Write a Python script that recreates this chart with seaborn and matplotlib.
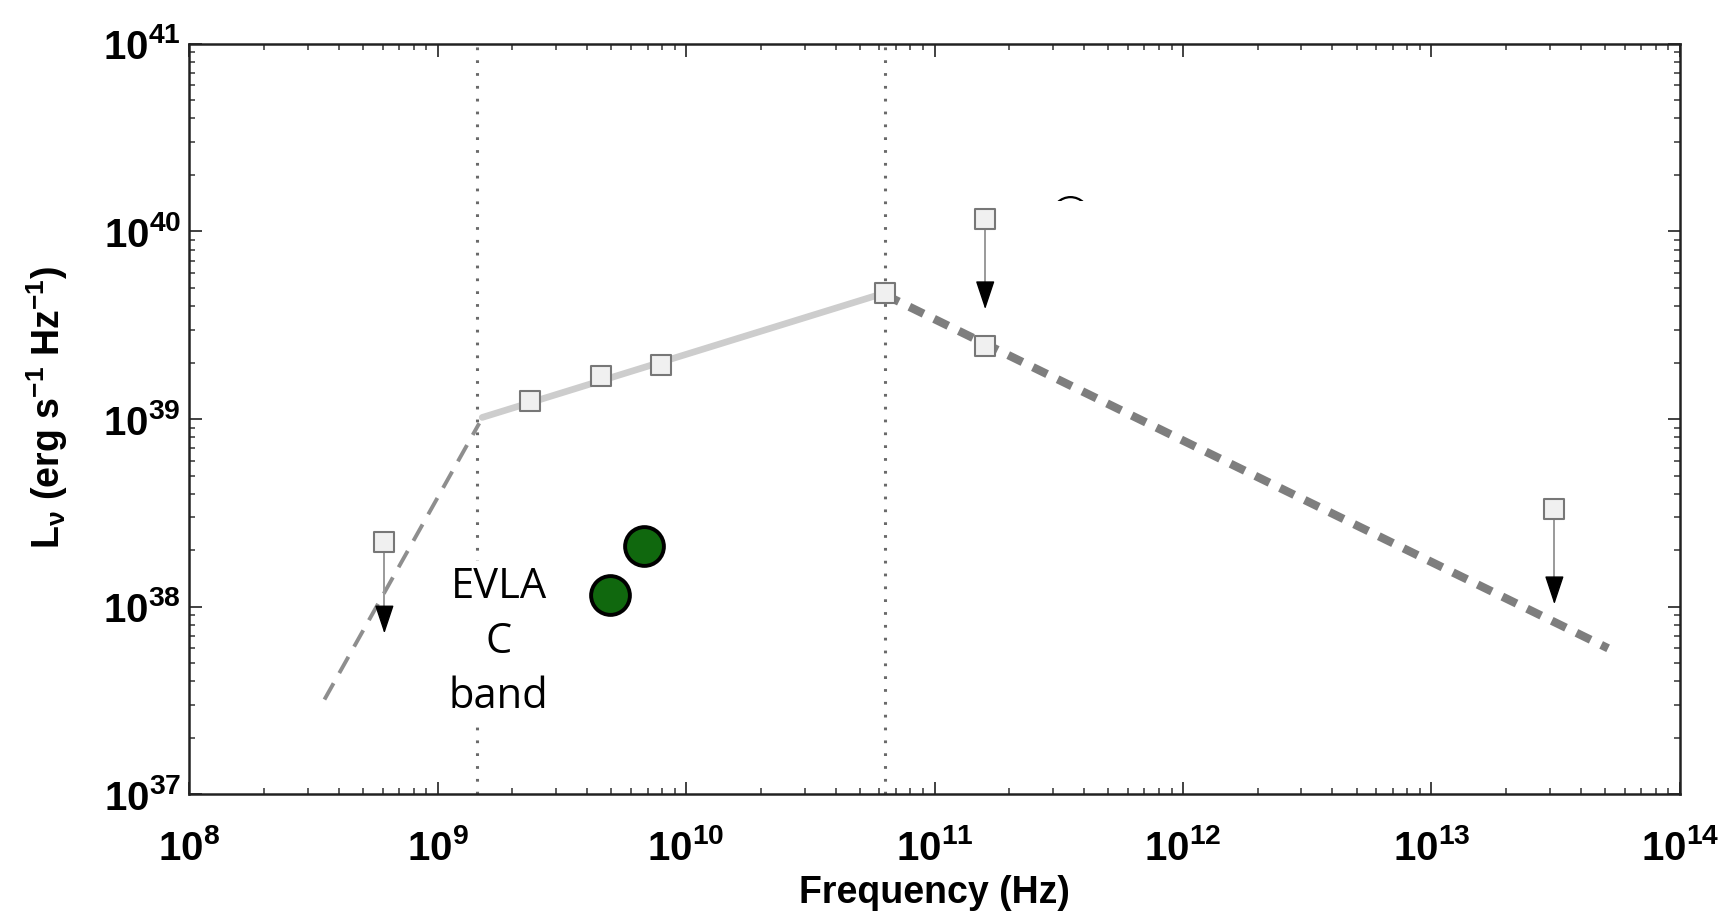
import numpy as np
import pandas as pd
import seaborn as sns
import matplotlib
matplotlib.use("Agg")
import matplotlib.pyplot as plt
from matplotlib.ticker import LogLocator, FixedLocator, FuncFormatter, NullFormatter
from matplotlib.patches import Rectangle, FancyArrowPatch

# ---------------- data ----------------
sq_freq = [6.1e8, 2.35e9, 4.55e9, 7.9e9, 6.3e10, 1.6e11, 1.6e11, 3.13e13]
sq_lum = [2.2e38, 1.25e39, 1.70e39, 1.95e39, 4.7e39, 1.17e40, 2.45e39, 3.3e38]
lim_freq = [6.1e8, 1.6e11, 3.13e13]
lim_top = [2.2e38, 1.17e40, 3.3e38]
lim_tip = [7.2e37, 3.85e39, 1.03e38]

evla_freq = [4.93e9, 6.77e9]
evla_lum = [1.15e38, 2.1e38]

thick_freq = [3.5e8, 1.47e9]
thick_lum = [3.2e37, 9.5e38]
thin_lo_freq = [1.51e9, 6.3e10]
thin_lo_lum = [1.02e39, 4.7e39]
thin_hi_freq = [6.3e10, 5.15e13]
thin_hi_lum = [4.6e39, 6.0e37]

break_freq = [1.44e9, 6.3e10]

hidden_freq = [3.5e11]
hidden_lum = [1.22e40]

xtick_exp = [8, 9, 10, 11, 12, 13, 14]
ytick_exp = [37, 38, 39, 40, 41]

# ---------------- style ----------------
sns.set_theme(style="ticks")
plt.rcParams["font.family"] = ["Liberation Sans", "DejaVu Sans"]
plt.rcParams["mathtext.fontset"] = "custom"
plt.rcParams["mathtext.rm"] = "Liberation Sans:bold"
plt.rcParams["mathtext.bf"] = "Liberation Sans:bold"
plt.rcParams["mathtext.it"] = "Liberation Sans:bold"
plt.rcParams["mathtext.sf"] = "Liberation Sans:bold"
plt.rcParams["text.color"] = "black"
plt.rcParams["axes.labelcolor"] = "black"

fig = plt.figure(figsize=(17.21, 9.13), dpi=100)
ax = fig.add_axes([0.110, 0.130, 0.866, 0.822])
ax.set_xscale("log")
ax.set_yscale("log")
ax.set_xlim(1e8, 1e14)
ax.set_ylim(1e37, 1e41)

# break frequencies
for bf in break_freq:
    ax.axvline(bf, color="#6a6a6a", lw=2.2, linestyle=(0, (0.9, 3.3)), zorder=1)

# model segments
sns.lineplot(x=thick_freq, y=thick_lum, ax=ax, color="#8e8e8e", lw=2.8,
             linestyle=(0, (4.8, 3.0)), zorder=2)
sns.lineplot(x=thin_lo_freq, y=thin_lo_lum, ax=ax, color="#cdcdcd", lw=4.8, zorder=2)
sns.lineplot(x=thin_hi_freq, y=thin_hi_lum, ax=ax, color="#7e7e7e", lw=6.0,
             linestyle=(0, (1.9, 1.4)), zorder=2)

# upper-limit arrows
for f, top, tip in zip(lim_freq, lim_top, lim_tip):
    ax.plot([f, f], [top, tip * 10 ** 0.05], color="#9a9a9a", lw=1.4, zorder=3)
    arr = FancyArrowPatch((f, tip * 10 ** 0.14), (f, tip),
                          arrowstyle="-|>,head_length=0.9,head_width=0.3",
                          mutation_scale=20, color="black", lw=1.0,
                          shrinkA=0, shrinkB=0, zorder=4)
    ax.add_patch(arr)

# squares
sns.scatterplot(x=sq_freq, y=sq_lum, ax=ax, marker="s", s=215,
                facecolor="#f0f0f0", edgecolor="#777777", linewidth=1.5, zorder=5)

# EVLA points
sns.scatterplot(x=evla_freq, y=evla_lum, ax=ax, marker="o", s=780,
                facecolor="#10680e", edgecolor="black", linewidth=2.8, zorder=5)

# partially hidden marker + white mask
sns.scatterplot(x=hidden_freq, y=hidden_lum, ax=ax, marker="o", s=700,
                facecolor="white", edgecolor="black", linewidth=1.6, zorder=5)
ax.add_patch(Rectangle((1.9e11, 6.5e39), 3.0e13 - 1.9e11, 1.46e40 - 6.5e39,
                       facecolor="white", edgecolor="none", zorder=6))

# EVLA label with white box
ax.text(1.76e9, 6.5e37, "EVLA\nC\nband", ha="center", va="center",
        fontsize=30, family=["Open Sans", "DejaVu Sans"], color="black",
        linespacing=1.4, zorder=7,
        bbox=dict(facecolor="white", edgecolor="none", pad=4))

# ticks
ax.xaxis.set_major_locator(FixedLocator([10.0 ** e for e in xtick_exp]))
ax.yaxis.set_major_locator(FixedLocator([10.0 ** e for e in ytick_exp]))
ax.xaxis.set_minor_locator(LogLocator(base=10, subs=np.arange(2, 10), numticks=100))
ax.yaxis.set_minor_locator(LogLocator(base=10, subs=np.arange(2, 10), numticks=100))
ax.xaxis.set_minor_formatter(NullFormatter())
ax.yaxis.set_minor_formatter(NullFormatter())
fmt = FuncFormatter(lambda v, p: r"$\mathbf{10^{%d}}$" % int(round(np.log10(v))))
ax.xaxis.set_major_formatter(fmt)
ax.yaxis.set_major_formatter(fmt)

ax.tick_params(which="both", direction="in", top=True, right=True, colors="#333333")
ax.tick_params(which="major", length=9, width=1.3, labelsize=29, labelcolor="black")
ax.tick_params(which="minor", length=4.5, width=1.1)
ax.tick_params(axis="x", which="major", pad=25)
ax.tick_params(axis="y", which="major", pad=6)

for sp in ax.spines.values():
    sp.set_visible(True)
    sp.set_color("#222222")
    sp.set_linewidth(1.8)

ax.set_xlabel("Frequency (Hz)", fontsize=27, fontweight="bold", color="black")
ax.set_ylabel(r"L$_{\nu}$ (erg s$^{-1}$ Hz$^{-1}$)", fontsize=27, fontweight="bold",
              color="black")
ax.xaxis.set_label_coords(0.5, -0.108)
ax.yaxis.set_label_coords(-0.080, 0.515)

fig.savefig("out.png", dpi=100, facecolor="white")
